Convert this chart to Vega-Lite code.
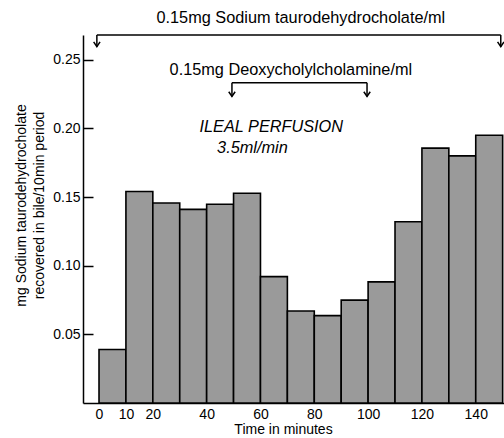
{
  "$schema": "https://vega.github.io/schema/vega-lite/v6.json",
  "width": 421,
  "height": 368,
  "autosize": {"type": "none"},
  "padding": {"left": 83, "top": 35, "right": 0, "bottom": 35},
  "config": {
    "view": {"stroke": null},
    "font": "Liberation Sans",
    "axis": {"labelColor": "black", "titleColor": "black", "domainColor": "black", "tickColor": "black", "grid": false, "labelFontSize": 14, "titleFontSize": 14, "titleFontWeight": "normal", "domainWidth": 1.5, "tickWidth": 1.5}
  },
  "layer": [
    {
      "data": {"values": [
        {"start": 0, "end": 10, "value": 0.039},
        {"start": 10, "end": 20, "value": 0.154},
        {"start": 20, "end": 30, "value": 0.1456},
        {"start": 30, "end": 40, "value": 0.141},
        {"start": 40, "end": 50, "value": 0.1447},
        {"start": 50, "end": 60, "value": 0.1528},
        {"start": 60, "end": 70, "value": 0.092},
        {"start": 70, "end": 80, "value": 0.067},
        {"start": 80, "end": 90, "value": 0.0636},
        {"start": 90, "end": 100, "value": 0.0749},
        {"start": 100, "end": 110, "value": 0.0882},
        {"start": 110, "end": 120, "value": 0.132},
        {"start": 120, "end": 130, "value": 0.1856},
        {"start": 130, "end": 140, "value": 0.180},
        {"start": 140, "end": 150, "value": 0.195}
      ]},
      "mark": {"type": "rect", "fill": "#9a9a9a", "stroke": "black", "strokeWidth": 1.6},
      "encoding": {
        "x": {"field": "start", "type": "quantitative", "scale": {"domain": [-5.95, 150.5], "nice": false, "zero": false},
              "axis": {"values": [0, 10, 20, 40, 60, 80, 100, 120, 140], "ticks": false, "labelPadding": 4, "title": "Time in minutes", "titlePadding": 1, "titleX": 200, "labelFlush": false, "labelOverlap": false}},
        "x2": {"field": "end"},
        "y": {"field": "value", "type": "quantitative", "scale": {"domain": [0, 0.268], "nice": false},
              "axis": {"values": [0.05, 0.1, 0.15, 0.2, 0.25], "format": ".2f", "tickSize": -10, "labelPadding": 13,
                       "title": ["mg Sodium taurodehydrocholate", "recovered in bile/10min period"],
                       "titleX": -62, "titleY": 170, "titleAngle": -90, "titleBaseline": "middle", "titleAlign": "center", "titleLineHeight": 18}},
        "y2": {"datum": 0}
      }
    },
    {
      "data": {"values": [
        {"x": -0.8, "x2": 149.3, "y": 0.268, "y2": 0.268},
        {"x": -0.8, "x2": -0.8, "y": 0.268, "y2": 0.2595},
        {"x": 149.3, "x2": 149.3, "y": 0.268, "y2": 0.2595},
        {"x": 49.4, "x2": 99.6, "y": 0.2332, "y2": 0.2332},
        {"x": 49.4, "x2": 49.4, "y": 0.2332, "y2": 0.2232},
        {"x": 99.6, "x2": 99.6, "y": 0.2332, "y2": 0.2232}
      ]},
      "mark": {"type": "rule", "color": "black", "strokeWidth": 1.5},
      "encoding": {
        "x": {"field": "x", "type": "quantitative", "scale": {"domain": [-5.95, 150.5], "nice": false, "zero": false}},
        "x2": {"field": "x2"},
        "y": {"field": "y", "type": "quantitative", "scale": {"domain": [0, 0.268], "nice": false}},
        "y2": {"field": "y2"}
      }
    },
    {
      "data": {"values": [
        {"x": -0.8, "y": 0.2595},
        {"x": 149.3, "y": 0.2595},
        {"x": 49.4, "y": 0.2232},
        {"x": 99.6, "y": 0.2232}
      ]},
      "mark": {"type": "point", "shape": "M-0.8,-1.2L0,0L0.8,-1.2", "filled": false, "stroke": "black", "strokeWidth": 1.5, "size": 64, "opacity": 1},
      "encoding": {
        "x": {"field": "x", "type": "quantitative", "scale": {"domain": [-5.95, 150.5], "nice": false, "zero": false}},
        "y": {"field": "y", "type": "quantitative", "scale": {"domain": [0, 0.268], "nice": false}}
      }
    },
    {
      "data": {"values": [
        {"x": 75, "y": 0.2805, "label": "0.15mg Sodium taurodehydrocholate/ml"},
        {"x": 71.3, "y": 0.2427, "label": "0.15mg Deoxycholylcholamine/ml"}
      ]},
      "mark": {"type": "text", "color": "black", "baseline": "middle", "align": "center", "fontSize": 16.3},
      "encoding": {
        "x": {"field": "x", "type": "quantitative", "scale": {"domain": [-5.95, 150.5], "nice": false, "zero": false}},
        "y": {"field": "y", "type": "quantitative", "scale": {"domain": [0, 0.268], "nice": false}},
        "text": {"field": "label"}
      }
    },
    {
      "data": {"values": [
        {"x": 64, "y": 0.201, "label": "ILEAL PERFUSION"},
        {"x": 57, "y": 0.186, "label": "3.5ml/min"}
      ]},
      "mark": {"type": "text", "color": "black", "baseline": "middle", "align": "center", "fontSize": 16.3, "fontStyle": "italic"},
      "encoding": {
        "x": {"field": "x", "type": "quantitative", "scale": {"domain": [-5.95, 150.5], "nice": false, "zero": false}},
        "y": {"field": "y", "type": "quantitative", "scale": {"domain": [0, 0.268], "nice": false}},
        "text": {"field": "label"}
      }
    }
  ]
}
